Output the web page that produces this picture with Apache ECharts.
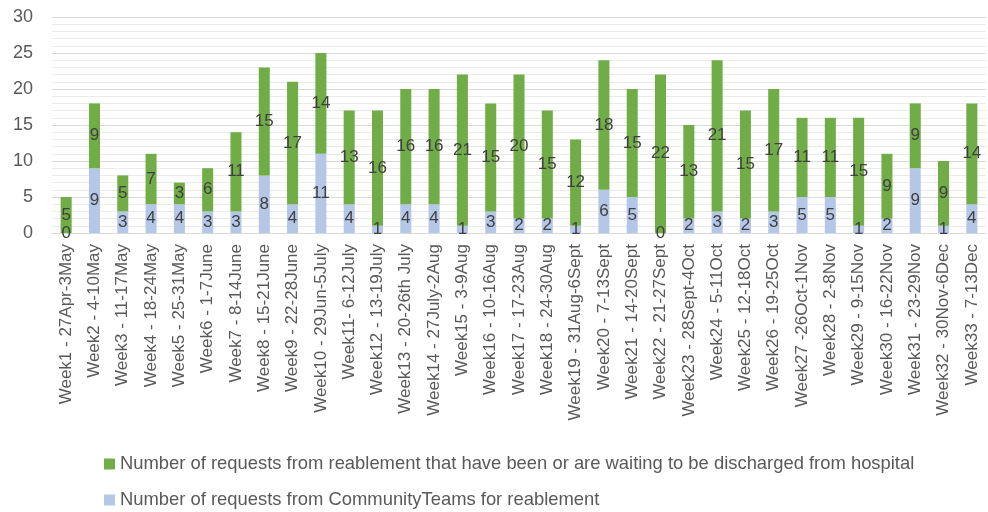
<!DOCTYPE html>
<html>
<head>
<meta charset="utf-8">
<script src="https://cdn.jsdelivr.net/npm/echarts@6/dist/echarts.min.js"></script>
<style>
  html, body { margin: 0; padding: 0; background: #fff; }
  #chart { width: 988px; height: 512px; }
</style>
</head>
<body>
<div id="chart"></div>
<script>
// Weekly reablement requests, stacked by source
const weeks = [
  'Week1 - 27Apr-3May', 'Week2 - 4-10May', 'Week3 - 11-17May', 'Week4 - 18-24May',
  'Week5 - 25-31May', 'Week6 - 1-7June', 'Week7 - 8-14June', 'Week8 - 15-21June',
  'Week9 - 22-28June', 'Week10 - 29Jun-5July', 'Week11- 6-12July', 'Week12 - 13-19July',
  'Week13 - 20-26th July', 'Week14 - 27July-2Aug', 'Week15 - 3-9Aug', 'Week16 - 10-16Aug',
  'Week17 - 17-23Aug', 'Week18 - 24-30Aug', 'Week19 - 31Aug-6Sept', 'Week20 - 7-13Sept',
  'Week21 - 14-20Sept', 'Week22 - 21-27Sept', 'Week23 - 28Sept-4Oct', 'Week24 - 5-11Oct',
  'Week25 - 12-18Oct', 'Week26 - 19-25Oct', 'Week27 -26Oct-1Nov', 'Week28 - 2-8Nov',
  'Week29 - 9-15Nov', 'Week30 - 16-22Nov', 'Week31 - 23-29Nov', 'Week32 - 30Nov-6Dec',
  'Week33 - 7-13Dec'
];

const communityName = 'Number of requests from CommunityTeams for reablement';
const hospitalName = 'Number of requests from reablement that have been or are waiting to be discharged from hospital';

const communityRequests = [0, 9, 3, 4, 4, 3, 3, 8, 4, 11, 4, 1, 4, 4, 1, 3, 2, 2, 1, 6, 5, 0, 2, 3, 2, 3, 5, 5, 1, 2, 9, 1, 4];
const hospitalRequests  = [5, 9, 5, 7, 3, 6, 11, 15, 17, 14, 13, 16, 16, 16, 21, 15, 20, 15, 12, 18, 15, 22, 13, 21, 15, 17, 11, 11, 15, 9, 9, 9, 14];

const yTicks = { min: 0, max: 30, interval: 5 };

const font = 'Liberation Sans, Arial, sans-serif';

const segLabel = {
  show: true,
  position: 'inside',
  color: '#404040',
  fontSize: 17,
  fontFamily: font
};

// one legend row per series, green first
function legendRow(name, top) {
  return {
    orient: 'horizontal',
    left: 99,
    top: top,
    itemWidth: 11,
    itemHeight: 11,
    icon: 'rect',
    data: [name],
    textStyle: { color: '#595959', fontSize: 18.4, fontFamily: font }
  };
}

const chart = echarts.init(document.getElementById('chart'), null, { renderer: 'canvas' });
chart.setOption({
  animation: false,
  backgroundColor: '#ffffff',
  textStyle: { fontFamily: font },
  grid: { left: 52, right: 2, top: 17, bottom: 279, containLabel: false },
  legend: [legendRow(hospitalName, 450), legendRow(communityName, 486)],
  xAxis: {
    type: 'category',
    data: weeks,
    axisTick: { show: false },
    axisLine: { lineStyle: { color: '#d9d9d9', width: 1 } },
    axisLabel: {
      rotate: 90,
      interval: 0,
      color: '#595959',
      fontSize: 17,
      fontFamily: font,
      margin: 11
    }
  },
  yAxis: {
    type: 'value',
    min: yTicks.min,
    max: yTicks.max,
    interval: yTicks.interval,
    axisLine: { show: false },
    axisTick: { show: false },
    axisLabel: { color: '#595959', fontSize: 18, fontFamily: font, margin: 19 },
    splitLine: { lineStyle: { color: '#d9d9d9', width: 1 } },
    minorTick: { show: false, splitNumber: 5 },
    minorSplitLine: { show: true, lineStyle: { color: '#ebebeb', width: 1 } }
  },
  series: [
    {
      name: communityName,
      type: 'bar',
      stack: 'total',
      barWidth: '39%',
      data: communityRequests,
      itemStyle: { color: '#b4c7e7' },
      label: segLabel
    },
    {
      name: hospitalName,
      type: 'bar',
      stack: 'total',
      barWidth: '39%',
      data: hospitalRequests,
      itemStyle: { color: '#70ad47' },
      label: segLabel
    }
  ]
});
</script>
</body>
</html>
